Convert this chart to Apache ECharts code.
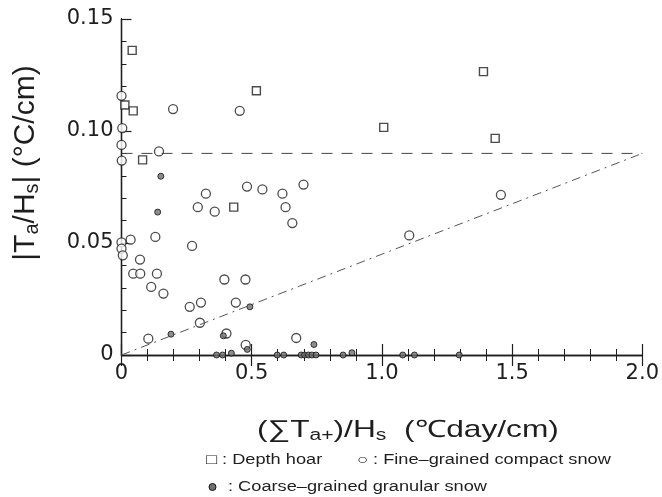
<!DOCTYPE html>
<html>
<head>
<meta charset="utf-8">
<script src="https://cdn.jsdelivr.net/npm/echarts@6/dist/echarts.min.js"></script>
<style>html,body{margin:0;padding:0;background:#fff}#c{width:662px;height:497px}</style>
</head>
<body>
<div id="c"></div>
<script>
// ---- data (x: (ΣTa+)/Hs, y: |Ta/Hs|) ----
const depthHoar = [
  [0.041,0.136],[0.013,0.1116],[0.045,0.109],[0.081,0.0871],[0.431,0.066],
  [0.518,0.118],[1.007,0.1016],[1.39,0.1265],[1.435,0.0967]
];
const fineGrained = [
  [0.0,0.1157],[0.198,0.1098],[0.454,0.109],[0.003,0.1013],[0.0,0.0938],
  [0.144,0.0909],[0.001,0.0868],[0.482,0.0752],[0.541,0.0739],[0.618,0.072],
  [0.699,0.0761],[0.324,0.072],[0.293,0.066],[0.358,0.064],[0.63,0.066],
  [0.656,0.0589],[0.035,0.0515],[0.0,0.0503],[0.0,0.0475],[0.005,0.0445],
  [0.13,0.0527],[0.271,0.0487],[0.071,0.0426],[0.045,0.0363],[0.072,0.0363],
  [0.136,0.0363],[0.114,0.0304],[0.161,0.0274],[0.395,0.0337],[0.476,0.0337],
  [0.262,0.0215],[0.305,0.0234],[0.439,0.0234],[0.301,0.0144],[0.103,0.0073],
  [0.403,0.0096],[0.477,0.0045],[0.671,0.0076],[1.105,0.0534],[1.457,0.0715]
];
const coarseGrained = [
  [0.151,0.0798],[0.139,0.0638],[0.493,0.0215],[0.19,0.0093],[0.391,0.0086],
  [0.483,0.0025],[0.422,0.0008],[0.739,0.0047],[0.885,0.001],
  [0.365,0],[0.388,0],[0.598,0],[0.623,0],[0.69,0],[0.703,0],[0.718,0],
  [0.731,0],[0.747,0],[0.851,0],[1.08,0],[1.125,0],[1.297,0]
];
const refHorizontal = [[0,0.09],[2.0,0.09]];
const refDiagonal = [[0,0],[2.0,0.09]];
const xTicks = {min:0, max:2.0, interval:0.5};
const yTicks = {min:0, max:0.15, interval:0.05};

const FONT = '"Liberation Sans", Arial, Helvetica, sans-serif';
const TICKFONT = '"DejaVu Sans", "Liberation Sans", sans-serif';
const INK = '#1e1e1e';
const chart = echarts.init(document.getElementById('c'), null, {renderer:'canvas'});

const axisLine = {show:true, lineStyle:{color:INK, width:1.3}};
function xAxisDef(pos, labels){
  return {
    type:'value', position:pos, min:xTicks.min, max:xTicks.max, interval:xTicks.interval,
    axisLine:axisLine,
    axisTick:{show:true, inside:true, length:11, lineStyle:{color:INK, width:1.2}},
    minorTick:{show:true, splitNumber:5, length:6, lineStyle:{color:INK, width:1}},
    splitLine:{show:false}, minorSplitLine:{show:false},
    axisLabel:{show:labels, fontFamily:TICKFONT, fontSize:21, color:INK, margin:8,
      formatter:v => v===0 ? '0' : v.toFixed(1)}
  };
}
function yAxisDef(pos, labels, ticks){
  return {
    type:'value', position:pos, min:yTicks.min, max:yTicks.max, interval:yTicks.interval,
    axisLine:axisLine,
    axisTick:{show:ticks, inside:true, length:10, lineStyle:{color:INK, width:1.2}},
    minorTick:{show:ticks, splitNumber:5, length:5, lineStyle:{color:INK, width:1}},
    splitLine:{show:false}, minorSplitLine:{show:false},
    axisLabel:{show:labels, fontFamily:TICKFONT, fontSize:21, color:INK, margin:8,
      formatter:v => v===0 ? '0' : v.toFixed(2)}
  };
}

const option = {
  backgroundColor:'#fff',
  animation:false,
  grid:{left:121.5, right:18.5, top:19, bottom:142},
  xAxis:[xAxisDef('bottom', true), xAxisDef('top', false)],
  yAxis:[yAxisDef('left', true, true), yAxisDef('right', false, false)],
  series:[
    {type:'line', data:refHorizontal, symbol:'none', silent:true,
      lineStyle:{color:'#444', width:1, type:[11,9]}},
    {type:'line', data:refDiagonal, symbol:'none', silent:true,
      lineStyle:{color:'#555', width:1, type:[9,5,2,5]}},
    {type:'scatter', name:'Depth hoar', data:depthHoar, symbol:'rect', symbolSize:8,
      itemStyle:{color:'#fff', borderColor:INK, borderWidth:1.4}},
    {type:'scatter', name:'Fine-grained compact snow', data:fineGrained, symbol:'circle', symbolSize:9,
      itemStyle:{color:'#fff', borderColor:INK, borderWidth:1.3}},
    {type:'scatter', name:'Coarse-grained granular snow', data:coarseGrained, symbol:'circle', symbolSize:6,
      itemStyle:{color:'#707070', borderColor:'#111', borderWidth:1}}
  ],
  graphic:[
    {type:'text', x:26, y:163, rotation:Math.PI/2, style:{
      text:'{n||T}{s|a}{n|/H}{s|s}{n|| (°C/cm)}',
      align:'center', verticalAlign:'middle', fill:INK,
      rich:{n:{fontFamily:FONT, fontSize:30, fill:INK}, s:{fontFamily:FONT, fontSize:20, fill:INK, padding:[13,0,0,0]}}
    }},
    {type:'text', x:257, y:430, scaleX:1.32, style:{
      text:'{n|(∑T}{s|a+}{n|)/H}{s|s}{n|  (℃day/cm)}',
      align:'left', verticalAlign:'middle', fill:INK,
      rich:{n:{fontFamily:FONT, fontSize:24, fill:INK}, s:{fontFamily:FONT, fontSize:16, fill:INK, padding:[11,0,0,0]}}
    }},
    {type:'text', x:206, y:460, scaleX:1.3, style:{text:'□ : Depth hoar', fontFamily:FONT, fontSize:14, fill:INK, verticalAlign:'middle'}},
    {type:'text', x:357, y:460, scaleX:1.3, style:{text:'○ : Fine–grained compact snow', fontFamily:FONT, fontSize:14, fill:INK, verticalAlign:'middle'}},
    {type:'circle', shape:{cx:212.5, cy:487, r:3.5}, style:{fill:'#707070', stroke:'#111', lineWidth:1}},
    {type:'text', x:228, y:487, scaleX:1.3, style:{text:': Coarse–grained granular snow', fontFamily:FONT, fontSize:14, fill:INK, verticalAlign:'middle'}}
  ]
};
chart.setOption(option);
</script>
</body>
</html>
